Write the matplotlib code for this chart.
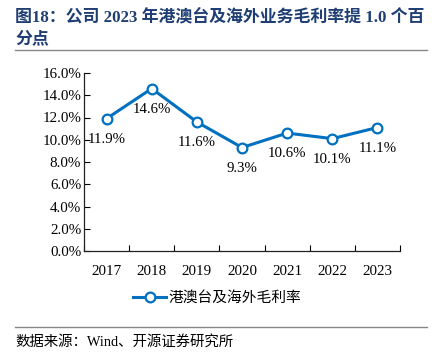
import numpy as np
import matplotlib.pyplot as plt
from matplotlib.ticker import FuncFormatter

# data to plot
years = ['2017', '2018', '2019', '2020', '2021', '2022', '2023']
margin = [11.9, 14.6, 11.6, 9.3, 10.6, 10.1, 11.1]

title_line1 = '图18：公司 2023 年港澳台及海外业务毛利率提 1.0 个百'
title_line2 = '分点'
legend_label = '港澳台及海外毛利率'
source = '数据来源：Wind、开源证券研究所'

serif = ['Liberation Serif', 'Noto Sans CJK SC']
cjk = ['Liberation Serif', 'Noto Sans CJK SC']
blue = '#0070C0'
navy = '#1F3E74'

fig = plt.figure(figsize=(4.35, 3.61), dpi=100)
ax = fig.add_axes([84 / 435, 1 - 251 / 361, 316 / 435, 178 / 361])

index = np.arange(len(years))
line, = ax.plot(index, margin, color=blue, linewidth=2.2,
                marker='o', markersize=7, markerfacecolor='white',
                markeredgecolor=blue, markeredgewidth=1.6,
                label=legend_label)

for x, v in zip(index, margin):
    ax.annotate('%.1f%%' % v, (x, v), xytext=(0, -15), textcoords='offset points',
                ha='center', va='center', fontsize=10.7, family=serif)

ax.set_xlim(-0.5, len(years) - 0.5)
ax.set_ylim(0, 16)
ax.set_yticks(np.arange(0, 17, 2))
ax.yaxis.set_major_formatter(FuncFormatter(lambda v, p: '%.1f%%' % v))
ax.set_xticks(np.arange(-0.5, len(years), 1))
ax.set_xticklabels([])
ax.set_xticks(index, minor=True)
ax.set_xticklabels(years, minor=True)
ax.tick_params(axis='x', which='major', direction='in', length=4, width=0.8)
ax.tick_params(axis='x', which='minor', length=0, pad=10)
ax.tick_params(axis='y', direction='in', length=4, width=0.8, pad=2)
for lab in ax.get_xticklabels(minor=True) + ax.get_yticklabels():
    lab.set_family(serif)
    lab.set_fontsize(10.8)
ax.spines['top'].set_visible(False)
ax.spines['right'].set_visible(False)
for s in ('left', 'bottom'):
    ax.spines[s].set_linewidth(0.9)
    ax.spines[s].set_color('#222222')

fig.legend(handles=[line], loc='center', bbox_to_anchor=(0.5, 1 - 298 / 361),
           frameon=False, prop={'family': cjk, 'size': 10.6},
           handlelength=2.2, handletextpad=0.2)

# title and source
fig.text(15 / 435, 1 - 17 / 361, title_line1, fontsize=12.2, fontweight='bold',
         color=navy, family=cjk, va='center', ha='left')
fig.text(15 / 435, 1 - 39 / 361, title_line2, fontsize=12.2, fontweight='bold',
         color=navy, family=cjk, va='center', ha='left')
fig.add_artist(plt.Line2D([15 / 435, 427 / 435], [1 - 50 / 361] * 2, color='#888888', linewidth=1))
fig.add_artist(plt.Line2D([15 / 435, 427 / 435], [1 - 327 / 361] * 2, color='#888888', linewidth=1))
fig.text(15 / 435, 1 - 342 / 361, source, fontsize=10.4, family=cjk, va='center', ha='left')

plt.savefig('out.png', dpi=100)
